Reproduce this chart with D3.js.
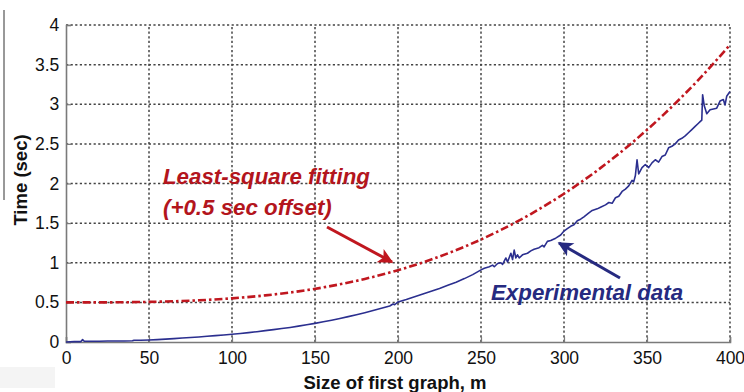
<!DOCTYPE html>
<html><head><meta charset="utf-8">
<script src="https://cdn.jsdelivr.net/npm/d3@7/dist/d3.min.js"></script>
<style>
html,body{margin:0;padding:0;background:#fff;}
svg{display:block;font-family:"Liberation Sans",Arial,sans-serif;}
</style></head>
<body><svg id="chart" width="744" height="392"></svg>
<script>
// ---- data ----
const xTicks = [0, 50, 100, 150, 200, 250, 300, 350, 400];
const yTicks = [0, 0.5, 1, 1.5, 2, 2.5, 3, 3.5, 4];
const yTickLabels = ["0", "0.5", "1", "1.5", "2", "2.5", "3", "3.5", "4"];

const fitX = [0, 20, 40, 60, 80, 100, 120, 140, 160, 180, 200, 220, 240, 260, 280, 300, 320, 340, 360, 380, 400];
const fitY = [0.50, 0.500, 0.503, 0.511, 0.526, 0.551, 0.588, 0.639, 0.708, 0.796, 0.906, 1.041, 1.202, 1.393, 1.615, 1.871, 2.164, 2.496, 2.869, 3.286, 3.75];

const expX = [0, 5, 9, 10, 11, 15, 20, 25, 30, 35, 40, 41, 45, 50, 55, 60, 65, 70, 75, 80, 85, 90, 95,
  100, 105, 110, 115, 120, 125, 130, 135, 140, 145, 150, 155, 160, 165, 170, 175, 180, 185, 190, 195, 197, 198,
  200, 205, 210, 215, 220, 225, 230, 235, 240, 245, 250, 252, 255, 257, 258, 260, 262, 263, 265, 266, 268, 269,
  270, 271, 272, 273, 275, 278, 280, 282, 285, 287, 288, 290, 292, 295, 298, 300, 302, 304, 306, 308, 310, 312,
  315, 317, 320, 322, 325, 327, 329, 331, 333, 335, 337, 339, 341, 342, 343, 344, 345, 347, 349, 351, 353, 355,
  357, 359, 361, 363, 365, 367, 369, 371, 373, 375, 377, 379, 381, 382, 383, 383.5, 384.5, 386, 388, 390, 392,
  394, 396, 397, 398, 400];
const expY = [0.00, 0.005, 0.005, 0.03, 0.01, 0.01, 0.01, 0.012, 0.012, 0.013, 0.015, 0.022, 0.023, 0.026, 0.03, 0.036, 0.042, 0.05, 0.057, 0.064, 0.072, 0.08, 0.088,
  0.097, 0.107, 0.118, 0.13, 0.143, 0.156, 0.17, 0.184, 0.2, 0.217, 0.235, 0.255, 0.275, 0.297, 0.32, 0.345, 0.37, 0.397, 0.425, 0.455, 0.48, 0.47,
  0.505, 0.535, 0.57, 0.605, 0.64, 0.675, 0.715, 0.755, 0.8, 0.85, 0.91, 0.93, 0.95, 0.97, 0.95, 0.99, 1.0, 0.98, 1.06, 1.01, 1.12, 1.04,
  1.16, 1.06, 1.10, 1.06, 1.10, 1.12, 1.15, 1.17, 1.19, 1.22, 1.20, 1.27, 1.28, 1.31, 1.35, 1.40, 1.43, 1.46, 1.48, 1.53, 1.55, 1.58,
  1.63, 1.66, 1.68, 1.70, 1.73, 1.76, 1.75, 1.82, 1.84, 1.90, 1.93, 1.97, 2.04, 2.02, 2.10, 2.30, 2.12, 2.20, 2.24, 2.20, 2.26, 2.30,
  2.27, 2.34, 2.36, 2.45, 2.47, 2.50, 2.55, 2.57, 2.60, 2.64, 2.68, 2.72, 2.76, 2.78, 2.80, 3.12, 2.98, 2.88, 2.93, 2.94, 2.95,
  3.04, 3.06, 2.99, 3.10, 3.16];

const xTitle = "Size of first graph, m";
const yTitle = "Time (sec)";
const fitLabel1 = "Least-square fitting";
const fitLabel2 = "(+0.5 sec offset)";
const expLabel = "Experimental data";

// ---- drawing ----
const svg = d3.select("#chart");
const L = 66, R = 730, T = 25, B = 342;
const x = d3.scaleLinear().domain([0, 400]).range([L, R]);
const y = d3.scaleLinear().domain([0, 4]).range([B, T]);

const redC = "#c0171f", blueC = "#2b2f8f", redText = "#b3151d", blueText = "#262a80";

svg.append("rect").attr("x", 0).attr("y", 367).attr("width", 55).attr("height", 21).attr("fill", "#f4f4f4");
svg.append("line").attr("x1", 4).attr("x2", 4).attr("y1", 10).attr("y2", 200).attr("stroke", "#333").attr("stroke-width", 1);

// grid
const grid = svg.append("g").attr("stroke", "#444").attr("stroke-width", 1.5).attr("stroke-dasharray", "2.2,2.4");
grid.selectAll("line.v").data(xTicks.filter(d => d > 0)).join("line")
  .attr("x1", d => x(d)).attr("x2", d => x(d)).attr("y1", y(0)).attr("y2", y(4));
grid.selectAll("line.h").data(yTicks.filter(d => d > 0)).join("line")
  .attr("x1", x(0)).attr("x2", x(400)).attr("y1", d => y(d)).attr("y2", d => y(d));

// axes
const xAxis = d3.axisBottom(x).tickValues(xTicks).tickSize(-5).tickPadding(10).tickFormat(d3.format("d"));
const yAxis = d3.axisLeft(y).tickValues(yTicks).tickSize(-5).tickPadding(5).tickFormat((d, i) => yTickLabels[i]);
const gx = svg.append("g").attr("transform", `translate(0,${B})`).call(xAxis);
const gy = svg.append("g").attr("transform", `translate(${L},0)`).call(yAxis);
[gx, gy].forEach(g => {
  g.select(".domain").attr("stroke", "#7a7a7a").attr("stroke-width", 1.6);
  g.selectAll(".tick line").attr("stroke", "#7a7a7a").attr("stroke-width", 1.2);
  g.selectAll(".tick text").attr("fill", "#111").style("font-size", "17.5px").style("font-family", "'Liberation Sans',Arial,sans-serif");
});
gy.selectAll(".tick text").attr("dx", "-0.1em");

// curves
const fitData = fitX.map((d, i) => [d, fitY[i]]);
const expData = expX.map((d, i) => [d, expY[i]]);
svg.append("path").datum(fitData)
  .attr("d", d3.line().x(d => x(d[0])).y(d => y(d[1])).curve(d3.curveMonotoneX))
  .attr("fill", "none").attr("stroke", redC).attr("stroke-width", 2.6)
  .attr("stroke-dasharray", "8,3,2.5,3");
svg.append("path").datum(expData)
  .attr("d", d3.line().x(d => x(d[0])).y(d => y(d[1])))
  .attr("fill", "none").attr("stroke", blueC).attr("stroke-width", 1.6).attr("stroke-linejoin", "round");

// arrows
const defs = svg.append("defs");
[["arR", redC], ["arB", blueText]].forEach(([id, c]) => {
  defs.append("marker").attr("id", id).attr("viewBox", "0 0 10 10").attr("refX", 9).attr("refY", 5)
    .attr("markerWidth", 6).attr("markerHeight", 5).attr("markerUnits", "strokeWidth").attr("orient", "auto")
    .append("path").attr("d", "M0,0 L10,5 L0,10 L2.5,5 z").attr("fill", c);
});
svg.append("line").attr("x1", 327).attr("y1", 227).attr("x2", 392).attr("y2", 262)
  .attr("stroke", redC).attr("stroke-width", 3).attr("marker-end", "url(#arR)");
svg.append("line").attr("x1", 620).attr("y1", 278).attr("x2", 559).attr("y2", 243)
  .attr("stroke", blueText).attr("stroke-width", 3).attr("marker-end", "url(#arB)");

// annotation text
const ann = svg.append("g").style("font-weight", "bold").style("font-style", "italic").style("font-size", "22.3px");
ann.append("text").attr("x", 163).attr("y", 184).attr("fill", redText).text(fitLabel1);
ann.append("text").attr("x", 163).attr("y", 215).attr("fill", redText).text(fitLabel2);
ann.append("text").attr("x", 491).attr("y", 300).attr("fill", blueText).text(expLabel);

// titles
svg.append("text").attr("x", 395).attr("y", 389).attr("text-anchor", "middle")
  .style("font-weight", "bold").style("font-size", "18.5px").attr("fill", "#111").text(xTitle);
svg.append("text").attr("transform", "translate(27,180) rotate(-90)").attr("text-anchor", "middle")
  .style("font-weight", "bold").style("font-size", "18.5px").attr("fill", "#111").text(yTitle);
</script></body></html>
